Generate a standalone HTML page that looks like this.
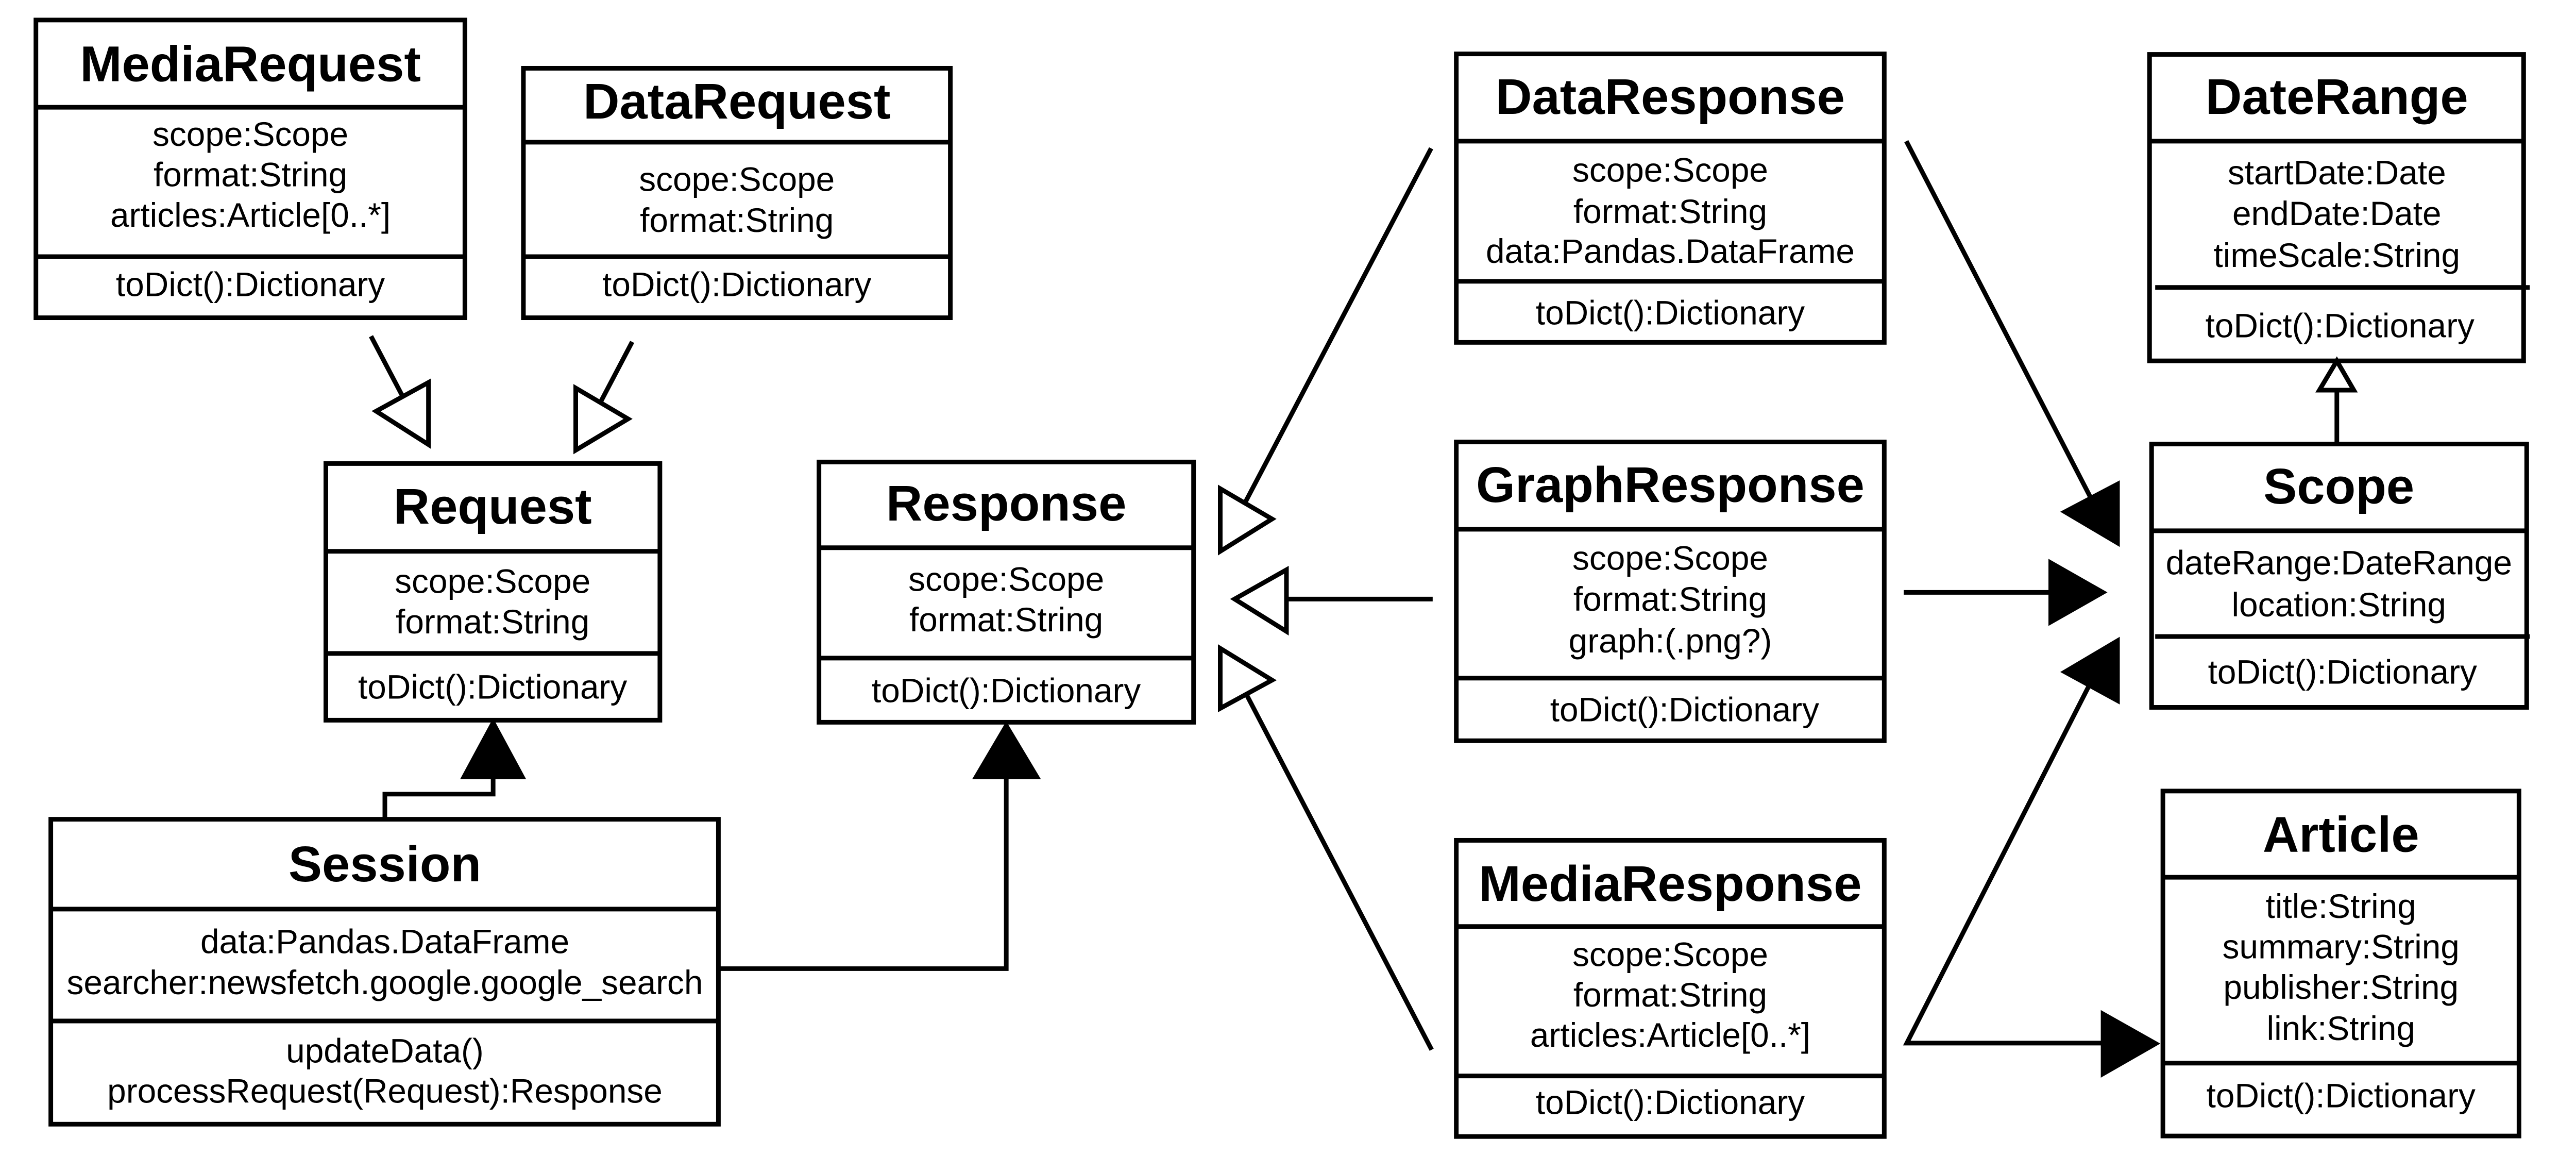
<!DOCTYPE html>
<html><head><meta charset="utf-8"><style>
html,body{margin:0;padding:0;background:#fff;}
svg{display:block}
text{font-family:"Liberation Sans",Arial,sans-serif;fill:#000;text-anchor:middle}
.t{font-size:98px;font-weight:bold}
.a{font-size:66px}
</style></head><body>
<svg width="5015" height="2274" viewBox="0 0 5015 2274" xmlns="http://www.w3.org/2000/svg">
<g transform="scale(0.996)">
<g fill="none" stroke="#000" stroke-width="9">
<rect x="70" y="39" width="836" height="580" fill="#fff"/>
<line x1="70" y1="209" x2="906" y2="209"/><line x1="70" y1="500" x2="906" y2="500"/>
<rect x="1020" y="133" width="832" height="486"/>
<line x1="1020" y1="277" x2="1852" y2="277"/><line x1="1020" y1="500" x2="1852" y2="500"/>
<rect x="635" y="903" width="651" height="500"/>
<line x1="635" y1="1074" x2="1286" y2="1074"/><line x1="635" y1="1273" x2="1286" y2="1273"/>
<rect x="1596" y="900" width="730" height="507"/>
<line x1="1596" y1="1067" x2="2326" y2="1067"/><line x1="1596" y1="1282" x2="2326" y2="1282"/>
<rect x="99" y="1596" width="1301" height="594"/>
<line x1="99" y1="1771" x2="1400" y2="1771"/><line x1="99" y1="1989" x2="1400" y2="1989"/>
<rect x="2838" y="105" width="834" height="562"/>
<line x1="2838" y1="275" x2="3672" y2="275"/><line x1="2838" y1="548" x2="3672" y2="548"/>
<rect x="2838" y="861" width="834" height="582"/>
<line x1="2838" y1="1031" x2="3672" y2="1031"/><line x1="2838" y1="1321" x2="3672" y2="1321"/>
<rect x="2838" y="1637" width="834" height="577"/>
<line x1="2838" y1="1805" x2="3672" y2="1805"/><line x1="2838" y1="2096" x2="3672" y2="2096"/>
<rect x="4189" y="106" width="729" height="597"/>
<line x1="4189" y1="275" x2="4918" y2="275"/><line x1="4200" y1="560" x2="4930" y2="560"/>
<rect x="4193" y="865" width="731" height="513"/>
<line x1="4193" y1="1034" x2="4924" y2="1034"/><line x1="4200" y1="1240" x2="4930" y2="1240"/>
<rect x="4215" y="1541" width="694" height="672"/>
<line x1="4215" y1="1709" x2="4909" y2="1709"/><line x1="4215" y1="2071" x2="4909" y2="2071"/>

<line x1="723" y1="655" x2="784" y2="771"/>
<polygon points="835,745 835,866 733,801"/>
<line x1="1232" y1="666" x2="1171" y2="782"/>
<polygon points="1122,756 1122,877 1224,816"/>
<polyline points="961,1516 961,1547 750,1547 750,1596"/>
<polyline points="1961,1516 1961,1887 1400,1887"/>
<line x1="2427" y1="978" x2="2789" y2="289"/>
<polygon points="2378,952 2378,1074 2479,1011"/>
<line x1="2507" y1="1167" x2="2792" y2="1167"/>
<polygon points="2406,1167 2507,1110 2507,1230"/>
<line x1="2427" y1="1349" x2="2790" y2="2045"/>
<polygon points="2378,1263 2378,1380 2479,1325"/>
<line x1="4554" y1="760" x2="4554" y2="865"/>
<polygon points="4554,703 4520,760 4587,760"/>
<line x1="3715" y1="275" x2="4073" y2="967"/>
<line x1="3710" y1="1154" x2="3994" y2="1154"/>
<polyline points="4073,1332 3716,2032 4096,2032"/>
</g>
<g fill="#000" stroke="#000" stroke-width="4">
<polygon points="961,1403 900,1516 1022,1516"/>
<polygon points="1961,1409 1898,1516 2025,1516"/>
<polygon points="4129,939 4129,1062 4019,997"/>
<polygon points="3994,1092 3994,1216 4103,1154"/>
<polygon points="4129,1244 4129,1369 4019,1309"/>
<polygon points="4096,1971 4096,2096 4206,2033"/>
</g>

<text class="t" x="488" y="158">MediaRequest</text>
<text class="a" x="488" y="284">scope:Scope</text>
<text class="a" x="488" y="363">format:String</text>
<text class="a" x="488" y="442">articles:Article[0..*]</text>
<text class="a" x="488" y="577">toDict():Dictionary</text>

<text class="t" x="1436" y="231">DataRequest</text>
<text class="a" x="1436" y="372">scope:Scope</text>
<text class="a" x="1436" y="452">format:String</text>
<text class="a" x="1436" y="577">toDict():Dictionary</text>

<text class="t" x="960" y="1020">Request</text>
<text class="a" x="960" y="1155">scope:Scope</text>
<text class="a" x="960" y="1234">format:String</text>
<text class="a" x="960" y="1361">toDict():Dictionary</text>

<text class="t" x="1961" y="1014">Response</text>
<text class="a" x="1961" y="1151">scope:Scope</text>
<text class="a" x="1961" y="1230">format:String</text>
<text class="a" x="1961" y="1368">toDict():Dictionary</text>

<text class="t" x="750" y="1717">Session</text>
<text class="a" x="750" y="1857">data:Pandas.DataFrame</text>
<text class="a" x="750" y="1937">searcher:newsfetch.google.google_search</text>
<text class="a" x="750" y="2070">updateData()</text>
<text class="a" x="750" y="2148">processRequest(Request):Response</text>

<text class="t" x="3255" y="222">DataResponse</text>
<text class="a" x="3255" y="354">scope:Scope</text>
<text class="a" x="3255" y="435">format:String</text>
<text class="a" x="3255" y="512">data:Pandas.DataFrame</text>
<text class="a" x="3255" y="632">toDict():Dictionary</text>

<text class="t" x="3255" y="978">GraphResponse</text>
<text class="a" x="3255" y="1110">scope:Scope</text>
<text class="a" x="3255" y="1190">format:String</text>
<text class="a" x="3255" y="1271">graph:(.png?)</text>
<text class="a" x="3283" y="1405">toDict():Dictionary</text>

<text class="t" x="3255" y="1755">MediaResponse</text>
<text class="a" x="3255" y="1882">scope:Scope</text>
<text class="a" x="3255" y="1961">format:String</text>
<text class="a" x="3255" y="2039">articles:Article[0..*]</text>
<text class="a" x="3255" y="2170">toDict():Dictionary</text>

<text class="t" x="4554" y="222">DateRange</text>
<text class="a" x="4554" y="359">startDate:Date</text>
<text class="a" x="4554" y="439">endDate:Date</text>
<text class="a" x="4554" y="520">timeScale:String</text>
<text class="a" x="4560" y="657">toDict():Dictionary</text>

<text class="t" x="4558" y="981">Scope</text>
<text class="a" x="4558" y="1119">dateRange:DateRange</text>
<text class="a" x="4558" y="1201">location:String</text>
<text class="a" x="4565" y="1332">toDict():Dictionary</text>

<text class="t" x="4562" y="1659">Article</text>
<text class="a" x="4562" y="1788">title:String</text>
<text class="a" x="4562" y="1867">summary:String</text>
<text class="a" x="4562" y="1946">publisher:String</text>
<text class="a" x="4562" y="2026">link:String</text>
<text class="a" x="4562" y="2157">toDict():Dictionary</text>
</g>
</svg>
</body></html>
